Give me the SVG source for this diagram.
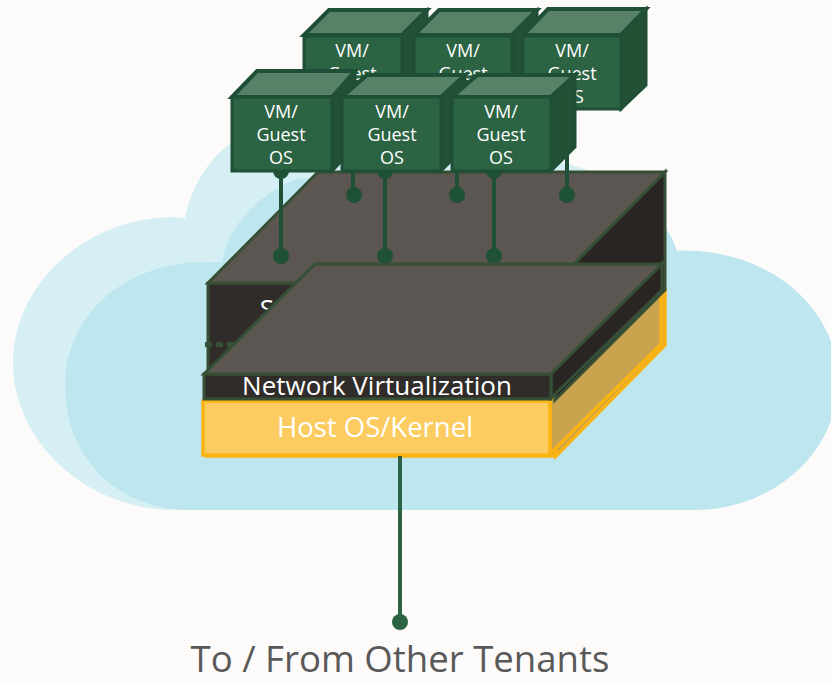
<svg xmlns="http://www.w3.org/2000/svg" width="831" height="683" viewBox="0 0 831 683">
<style>
text{font-family:"Open Sans","Noto Sans","Liberation Sans",sans-serif;text-anchor:middle}
.vm{fill:#fff;font-size:18px}
.front{fill:#2b6343;stroke:#1f4f37;stroke-width:3}
.top{fill:#578267;stroke:#1f4f37;stroke-width:4}
.side{fill:#235135;stroke:#1f4f37;stroke-width:3}
.plate{fill:#5b5652;stroke:#374f35;stroke-width:3}
.dark{fill:#302c29;stroke:#374f35;stroke-width:3}
.darkside{fill:#282522;stroke:#374f35;stroke-width:3}
.hf{fill:#fccc60;stroke:#fbb314;stroke-width:3.5}
.hs{fill:#c8a44e;stroke:#fbb314;stroke-width:3.5}
.ln{stroke:#1f5137;stroke-width:4;fill:none}
.dot{fill:#1f5137}
</style>
<rect id="bg" width="831" height="683" fill="#fcfbfa"/>
<g id="cloud">
<path fill="#d5eff5" d="M185 218C192 185 208 160 232 142L320 150L500 150L565 163C620 178 665 210 677 251L690 510H175C85 510 13 440 13 363C13 285 85 217 175 217Z"/>
<path fill="#bee6ef" d="M222 262C228 228 255 195 300 178L560 180L640 200C660 220 672 235 677 251C770 247 838 310 838 380C838 455 770 510 695 510H190C120 510 65 460 65 386C65 315 125 262 205 262Z"/>
</g>
<g id="vm-back-1"><path class="top" d="M304 35L329 10H427L402 35Z"/><path class="side" d="M402 35L427 10V85L402 110Z"/><rect class="front" x="304" y="36" width="98" height="74"/><text class="vm" x="352" y="57">VM/</text><text class="vm" x="352" y="80">Guest</text></g>
<g id="vm-back-2"><path class="top" d="M414 35L439 10H537L512 35Z"/><path class="side" d="M512 35L537 10V85L512 110Z"/><rect class="front" x="414" y="36" width="98" height="74"/><text class="vm" x="463" y="57">VM/</text><text class="vm" x="463" y="80">Guest</text></g>
<g id="vm-back-3"><path class="top" d="M523 35L548 9H646L621 35Z"/><path class="side" d="M621 35L646 9V85L621 109Z"/><rect class="front" x="523" y="36" width="98" height="73"/><text class="vm" x="572" y="57">VM/</text><text class="vm" x="572" y="80">Guest</text><text class="vm" x="572" y="103">OS</text></g>
<g id="host"><path class="hs" d="M556 456L665 345V291L556 400Z"/><path class="hs" d="M207 404H555V456H207Z"/><path class="hs" d="M550 454L661 344V291L550 400Z"/><rect class="hf" x="203" y="401" width="347" height="54"/></g>
<g id="switch"><path class="darkside" d="M555 283L665 172V290L555 400Z"/><rect class="dark" x="208" y="283" width="347" height="95"/><path class="plate" d="M208 283L318 172H665L555 283Z"/><text x="267" y="318" fill="#fff" font-size="26">S</text><path d="M205 344.500H238" stroke="#374f35" stroke-width="5" stroke-dasharray="7 4" fill="none"/></g>
<g id="connectors">
<path class="ln" d="M353 110V195M457 110V195M567 150V195"/>
<circle class="dot" cx="354" cy="195" r="8"/><circle class="dot" cx="457" cy="195" r="8"/><circle class="dot" cx="567" cy="195" r="8"/>
<path class="ln" d="M281 170V256M385 170V256M494 170V256"/>
<circle class="dot" cx="281" cy="171" r="8"/><circle class="dot" cx="385" cy="171" r="8"/><circle class="dot" cx="494" cy="171" r="8"/>
<circle class="dot" cx="281" cy="256" r="8"/><circle class="dot" cx="385" cy="256" r="8"/><circle class="dot" cx="494" cy="256" r="8"/>
<path d="M400 456V622" stroke="#2b6343" stroke-width="4"/><circle cx="400" cy="622" r="8" fill="#2b6343"/>
</g>
<g id="net"><path class="darkside" d="M551 373L662 263V290L551 398Z"/><rect class="dark" x="204" y="374" width="347" height="25"/><path class="plate" d="M204 374L315 264H662L551 374Z"/><text x="377" y="395" fill="#fff" font-size="26">Network Virtualization</text></g>
<text x="375" y="437" fill="#fff" font-size="27.5">Host OS/Kernel</text>
<g id="vm-front-1"><path class="top" d="M232 97L257 71H355L332 97Z"/><path class="side" d="M332 97L355 73V147L332 171Z"/><rect class="front" x="232" y="97" width="100" height="74"/><text class="vm" x="281" y="118">VM/</text><text class="vm" x="281" y="141">Guest</text><text class="vm" x="281" y="164">OS</text></g>
<g id="vm-front-2"><path class="top" d="M342 97L367 75H465L441 97Z"/><path class="side" d="M441 97L465 75V147L441 171Z"/><rect class="front" x="342" y="97" width="99" height="74"/><text class="vm" x="392" y="118">VM/</text><text class="vm" x="392" y="141">Guest</text><text class="vm" x="392" y="164">OS</text></g>
<g id="vm-front-3"><path class="top" d="M452 97L477 75H575L551 97Z"/><path class="side" d="M551 97L575 75V147L551 171Z"/><rect class="front" x="452" y="97" width="99" height="74"/><text class="vm" x="501" y="118">VM/</text><text class="vm" x="501" y="141">Guest</text><text class="vm" x="501" y="164">OS</text></g>
<text id="tenants" x="400" y="672" fill="#595959" font-size="36.6">To / From Other Tenants</text>
</svg>
